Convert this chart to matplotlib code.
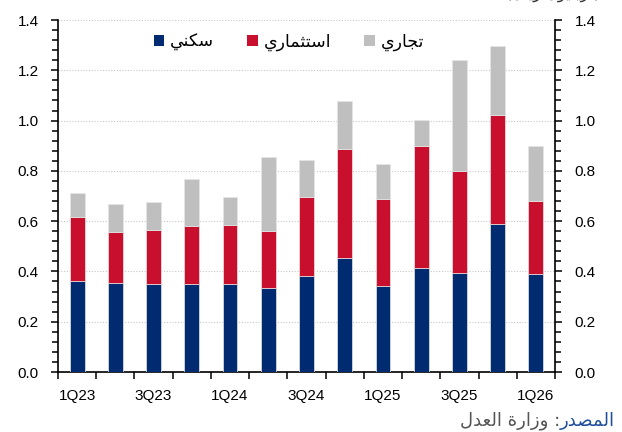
import matplotlib
matplotlib.use("Agg")
import matplotlib.pyplot as plt
from matplotlib.patches import Patch
from matplotlib.ticker import MultipleLocator, FixedLocator
import numpy as np

# quarters on the x axis
quarters = ["1Q23", "2Q23", "3Q23", "4Q23", "1Q24", "2Q24", "3Q24", "4Q24",
            "1Q25", "2Q25", "3Q25", "4Q25", "1Q26"]

# segment values
residential = [0.362, 0.354, 0.351, 0.350, 0.350, 0.334, 0.381, 0.453,
               0.342, 0.413, 0.393, 0.588, 0.391]
investment = [0.253, 0.201, 0.212, 0.230, 0.233, 0.228, 0.317, 0.433,
              0.345, 0.485, 0.407, 0.436, 0.291]
commercial = [0.096, 0.114, 0.112, 0.188, 0.112, 0.294, 0.147, 0.193,
              0.141, 0.105, 0.441, 0.271, 0.215]

# Arabic labels, already shaped and put in visual order (matplotlib does no bidi)
lbl_res = "\uFEF2\uFEE8\uFEDC\uFEB3"                              # سكني
lbl_inv = "\uFEF1\uFEAD\uFE8E\uFEE4\uFE9C\uFE98\uFEB3\uFE8D"      # استثماري
lbl_com = "\uFEF1\uFEAD\uFE8E\uFEA0\uFE97"                        # تجاري
src_head = "\uFEAD\uFEAA\uFEBC\uFEE4\uFEDF\uFE8D"                 # المصدر
src_body = "\uFEDD\uFEAA\uFECC\uFEDF\uFE8D \uFE93\uFEAD\uFE8D\uFEAF\uFEED :"  # : وزارة العدل
unit_txt = "(\uFEDD\uFE8E\uFEF3\uFEAD \uFEE5\uFEEE\uFEF4\uFEE0\uFEF3\uFEAE\uFE97)"  # (تريليون ريال)

blue = "#002B70"
red = "#C8102E"
grey = "#BFBFBF"

plt.rcParams["font.family"] = ["Liberation Sans", "DejaVu Sans"]

fig = plt.figure(figsize=(6.22, 4.32), dpi=100)
ax = fig.add_axes([58 / 622, 1 - 372 / 432, (555 - 58) / 622, (372 - 20) / 432])

x = np.arange(len(quarters))
w = 0.39
res = np.array(residential)
inv = np.array(investment)
com = np.array(commercial)
ax.bar(x, res, w, color=blue, edgecolor="#E6E6E6", linewidth=0.5, zorder=3)
ax.bar(x, inv, w, bottom=res, color=red, edgecolor="#E6E6E6", linewidth=0.5, zorder=3)
ax.bar(x, com, w, bottom=res + inv, color=grey, edgecolor="#E6E6E6", linewidth=0.5, zorder=3)

ax.set_xlim(-0.5, len(quarters) - 0.5)
ax.set_ylim(0, 1.4)

# y axis, mirrored on the right
ax.yaxis.set_major_locator(MultipleLocator(0.2))
ax.yaxis.set_minor_locator(MultipleLocator(0.04))
ax.yaxis.set_major_formatter(matplotlib.ticker.FormatStrFormatter("%.1f"))
ax.tick_params(axis="y", which="major", length=5, width=1.1, labelsize=11, pad=9,
               left=True, right=True, labelleft=True, labelright=True)
ax.tick_params(axis="y", which="minor", length=4, width=1.1, left=True, right=True)
ax.yaxis.set_tick_params(which="both", direction="out")

# x axis: labels on every other quarter, ticks between the bars
ax.set_xticks(x)
ax.set_xticklabels([q if i % 2 == 0 else "" for i, q in enumerate(quarters)])
ax.xaxis.set_minor_locator(FixedLocator(np.arange(-0.5, len(quarters), 1.0)))
ax.tick_params(axis="x", which="major", length=0, labelsize=11, pad=12)
ax.tick_params(axis="x", which="minor", length=5, width=1.1, direction="out")

ax.grid(axis="y", which="major", linestyle=(0, (1, 1.5)), color="#C8C8C8",
        linewidth=0.8, zorder=0)
ax.spines["top"].set_visible(False)
for s in ["left", "right", "bottom"]:
    ax.spines[s].set_linewidth(1.2)

handles = [Patch(facecolor=blue, label=lbl_res),
           Patch(facecolor=red, label=lbl_inv),
           Patch(facecolor=grey, label=lbl_com)]
ax.legend(handles=handles, loc="center", bbox_to_anchor=(0.465, 0.937), ncol=3,
          frameon=False, handlelength=0.6, handleheight=0.6,
          handletextpad=0.35, columnspacing=1.9,
          prop={"family": "DejaVu Sans", "size": 12.5})

# unit label, cut at the top edge like in the source
fig.text(600 / 622, 1 + 6 / 432, unit_txt, ha="right", va="center", fontsize=11.5,
         family="DejaVu Sans", color="#333333")

# source line, right to left
fig.canvas.draw()
t1 = fig.text(615 / 622, 1 - 421 / 432, src_head, ha="right", va="center",
              fontsize=13, family="DejaVu Sans", color="#1F4E9A")
fig.canvas.draw()
bb = t1.get_window_extent()
fig.text(bb.x0 / fig.bbox.width, 1 - 421 / 432, src_body, ha="right", va="center",
         fontsize=13, family="DejaVu Sans", color="#555555")

fig.savefig("out.png", dpi=100)
